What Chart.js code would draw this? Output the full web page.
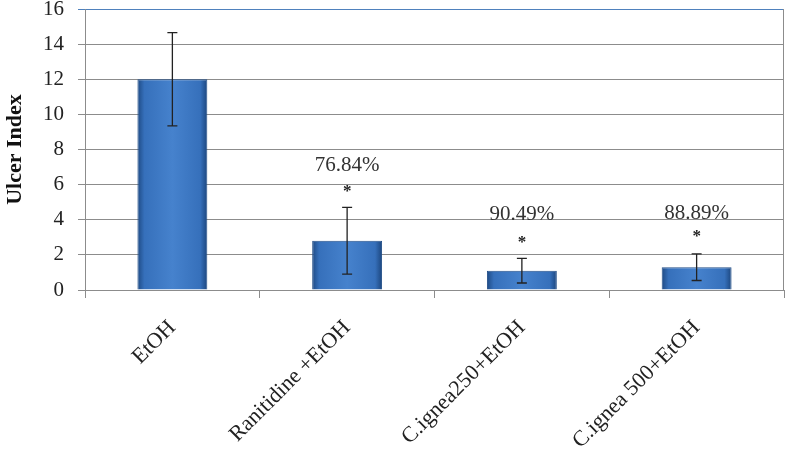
<!DOCTYPE html>
<html>
<head>
<meta charset="utf-8">
<script src="https://cdn.jsdelivr.net/npm/chart.js@4"></script>
<style>
  html, body { margin: 0; padding: 0; background: #fff; }
  #wrap { width: 787px; height: 456px; }
</style>
</head>
<body>
<div id="wrap"><canvas id="ulcer"></canvas></div>
<script>
var groups = ['EtOH', 'Ranitidine +EtOH', 'C.ignea250+EtOH', 'C.ignea 500+EtOH'];
var ulcerIndex = [12, 2.8, 1.1, 1.3];
var errors = [2.65, 1.9, 0.7, 0.76];
var starAt = [null, 5.8, 2.85, 3.2];
var inhibition = [null, '76.84%', '90.49%', '88.89%'];
var inhibitionAt = [null, 7.1, 4.3, 4.35];
var yTicks = [0, 2, 4, 6, 8, 10, 12, 14, 16];

var serif = '"Liberation Serif", "Times New Roman", serif';

function barFill(context) {
  var chart = context.chart;
  var area = chart.chartArea;
  if (!area) return '#3b76c2';
  var x = chart.scales.x.getPixelForValue(context.dataIndex);
  var half = (area.right - area.left) / groups.length * 0.4 / 2;
  var g = chart.ctx.createLinearGradient(x - half, 0, x + half, 0);
  g.addColorStop(0, '#1e4a84');
  g.addColorStop(0.1, '#3670bb');
  g.addColorStop(0.5, '#4682cd');
  g.addColorStop(0.9, '#3670bb');
  g.addColorStop(1, '#1c467e');
  return g;
}

// error bars, stars and percentages, all placed through the scales
var extras = {
  id: 'extras',
  afterDatasetsDraw: function(chart) {
    var ctx = chart.ctx;
    var xs = chart.scales.x, ys = chart.scales.y;
    ctx.save();
    ctx.strokeStyle = '#222';
    ctx.lineWidth = 1.3;
    for (var i = 0; i < groups.length; i++) {
      var x = xs.getPixelForValue(i);
      var top = ys.getPixelForValue(ulcerIndex[i] + errors[i]);
      var bot = ys.getPixelForValue(ulcerIndex[i] - errors[i]);
      ctx.beginPath();
      ctx.moveTo(x, top); ctx.lineTo(x, bot);
      ctx.moveTo(x - 5, top); ctx.lineTo(x + 5, top);
      ctx.moveTo(x - 5, bot); ctx.lineTo(x + 5, bot);
      ctx.stroke();
      ctx.textAlign = 'center';
      ctx.textBaseline = 'middle';
      ctx.fillStyle = '#222';
      if (starAt[i] != null) {
        ctx.font = 'bold 17px ' + serif;
        ctx.fillText('*', x, ys.getPixelForValue(starAt[i]) + 3);
      }
      if (inhibition[i]) {
        ctx.fillStyle = '#333';
        ctx.font = '21px ' + serif;
        ctx.fillText(inhibition[i], x, ys.getPixelForValue(inhibitionAt[i]));
      }
    }
    // right border of the plot
    var a = chart.chartArea;
    ctx.strokeStyle = '#8c8c8c';
    ctx.lineWidth = 1;
    ctx.beginPath();
    ctx.moveTo(a.right - 0.5, a.top); ctx.lineTo(a.right - 0.5, a.bottom);
    ctx.stroke();
    ctx.restore();
  }
};

new Chart(document.getElementById('ulcer'), {
  type: 'bar',
  data: {
    labels: groups,
    datasets: [{
      label: 'Ulcer Index',
      data: ulcerIndex,
      backgroundColor: barFill,
      borderColor: '#234f88',
      borderWidth: 1,
      barPercentage: 0.8,
      categoryPercentage: 0.5
    }]
  },
  options: {
    responsive: true,
    maintainAspectRatio: false,
    animation: false,
    layout: { padding: { top: 9, right: 3, left: 0, bottom: 0 } },
    plugins: {
      legend: { display: false },
      tooltip: { enabled: false }
    },
    scales: {
      x: {
        offset: true,
        afterFit: function(axis) { axis.height = 166; },
        grid: {
          offset: true,
          drawOnChartArea: false,
          drawTicks: true,
          tickLength: 8,
          color: '#8c8c8c'
        },
        border: { color: '#8c8c8c' },
        ticks: {
          color: '#222',
          minRotation: 45,
          maxRotation: 45,
          padding: 17,
          font: { family: serif, size: 22 }
        }
      },
      y: {
        min: 0,
        max: 16,
        afterFit: function(axis) {
          axis.width = 85;
          axis.paddingTop = 0;
          axis.paddingBottom = 0;
        },
        afterBuildTicks: function(axis) {
          axis.ticks = yTicks.map(function(v) { return { value: v }; });
        },
        grid: {
          color: function(c) { return c.tick && c.tick.value === 16 ? '#4f81bd' : '#8c8c8c'; },
          tickLength: 7
        },
        border: { color: '#8c8c8c' },
        ticks: {
          color: '#222',
          padding: 14,
          font: { family: serif, size: 21 }
        },
        title: {
          display: true,
          text: 'Ulcer Index',
          color: '#111',
          padding: { top: 2, bottom: 0 },
          font: { family: serif, size: 22, weight: 'bold' }
        }
      }
    }
  },
  plugins: [extras]
});
</script>
</body>
</html>
